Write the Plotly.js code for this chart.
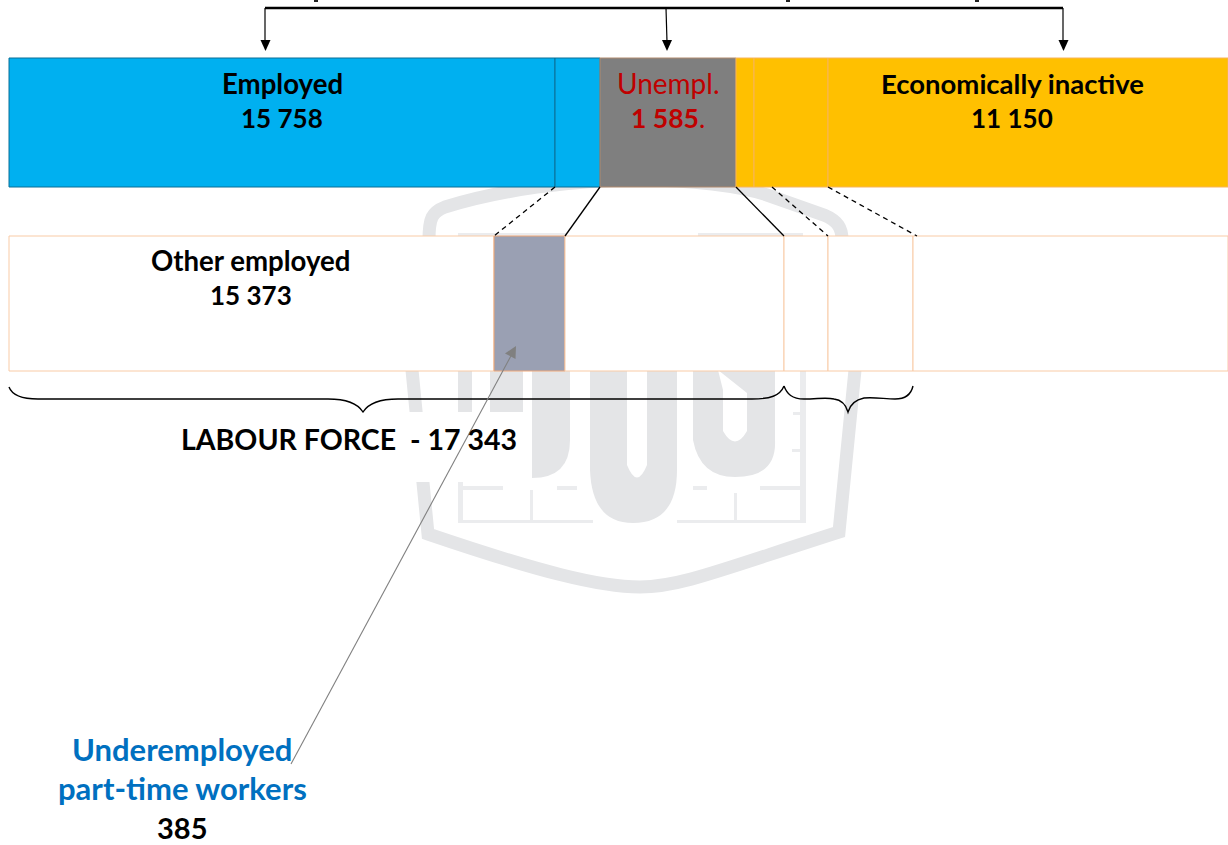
<!DOCTYPE html>
<html>
<head>
<meta charset="utf-8">
<script src="https://cdn.plot.ly/plotly-3.0.1.min.js"></script>
<style>html,body{margin:0;padding:0;background:#fff;overflow:hidden}#chart{width:1228px;height:845px}</style>
</head>
<body>
<div id="chart"></div>
<script>
// Schematic segment widths (the diagram is not to scale)
const topSegments = ['Employed', 'Employed (part)', 'Unempl.', 'Inactive (a)', 'Inactive (b)', 'Economically inactive'];
const topWidths   = [546, 45, 136, 18, 74, 400];
const topColors   = ['#00b0f0', '#00b0f0', '#7f7f7f', '#ffc000', '#ffc000', '#ffc000'];
const topBorders  = ['#0b6f96', '#0b6f96', '#b08a6e', '#f7b45a', '#f7b45a', '#f7b45a'];

const lowSegments = ['Other employed', 'Underemployed part-time workers', 'Unemployed', 'Potential (a)', 'Potential (b)', 'Other inactive'];
const lowWidths   = [485, 71, 219, 44, 85, 315];
const lowColors   = ['#ffffff', '#9aa0b3', '#ffffff', '#ffffff', '#ffffff', '#ffffff'];
const lowBorders  = ['#f9cba6', '#f0a878', '#f9cba6', '#f9cba6', '#f9cba6', '#f9cba6'];

const startX = 9;
function cumulative(widths) {
  let s = startX;
  return widths.map(w => { const b = s; s += w; return b; });
}
function barTrace(names, widths, colors, borders, yc, h) {
  return {
    type: 'bar', orientation: 'h',
    x: widths, y: widths.map(() => yc), base: cumulative(widths),
    width: widths.map(() => h), text: names, textposition: 'none', hoverinfo: 'text',
    marker: { color: colors, line: { color: borders, width: 1 } },
    showlegend: false
  };
}

const WM = '#e4e5e7', WL = '#ebecee';
function fill(path, c) { return { type: 'path', path, fillcolor: c || WM, line: { width: 0 }, layer: 'below' }; }
function rect(x0, y0, x1, y1, c) { return { type: 'rect', x0, y0, x1, y1, fillcolor: c || WL, line: { width: 0 }, layer: 'below' }; }
function conn(x0, y0, x1, y1, dash) {
  return { type: 'line', x0, y0, x1, y1, line: { color: '#000', width: 1.3, dash: dash ? '5px,4px' : 'solid' } };
}
function stroke(path, w, c) { return { type: 'path', path, line: { color: c || '#000', width: w } }; }
function head(x, yTip, c, hw, len) {
  return { type: 'path', path: `M${x - hw},${yTip - len} L${x + hw},${yTip - len} L${x},${yTip} Z`, fillcolor: c, line: { width: 0 } };
}

const shapes = [
  // watermark badge
  { type: 'path', layer: 'below', fillcolor: 'rgba(0,0,0,0)', line: { color: WM, width: 13 },
    path: 'M429,240 C429,218 432,212 445,207 C500,190 570,180 640,180 C690,180 740,186 767,195 L824,215 C838,221 842,228 842,240 L855,370 L839,532 C720,570 680,587 640,587 C600,587 540,572 428,534 L412,370 Z' },
  fill('M532,360 L570,360 L570,440 Q570,478 532,478 Z'),
  fill('M590,360 L590,470 Q592,523 633,523 Q677,523 677,470 L677,360 L647,360 L647,465 Q637,490 627,465 L627,360 Z'),
  fill('M693,360 L693,440 Q700,477 735,477 Q777,477 775,440 L775,360 Z M718,370 L747,393 L747,431 Q735,452 723,431 L723,390 Z'),
  rect(458, 371, 472, 412, WM), rect(490, 371, 523, 412, WM),
  rect(458, 233, 567, 237), rect(698, 233, 803, 237),
  rect(458, 520, 593, 523), rect(677, 520, 806, 523),
  rect(458, 482, 463, 522), rect(530, 490, 533, 522),
  rect(463, 486, 503, 490), rect(557, 486, 577, 490),
  rect(693, 486, 707, 490), rect(760, 486, 803, 490),
  rect(800, 371, 806, 522), rect(734, 493, 737, 520),
  rect(793, 412, 803, 415), rect(792, 449, 803, 452),
  // white box behind the labour force label
  rect(170, 412, 531, 482, '#ffffff'),

  // clipped text descenders at the page top
  rect(314, 0, 318, 2, '#222'), rect(786, 0, 790, 2, '#222'), rect(975, 0, 979, 2, '#222'),

  // top connector with arrows
  stroke('M265,8 L1063,8', 2.4),
  stroke('M265,8 L265,42', 1.2), stroke('M666,8 L667,42', 1.2), stroke('M1063,8 L1063,42', 1.2),
  head(265.5, 51, '#000', 5, 11), head(667, 51, '#000', 5, 11), head(1063.5, 51, '#000', 5, 11),

  // zoom lines between rows
  conn(555, 187, 494, 236, true), conn(600, 187, 565, 236, false),
  conn(736, 187, 784, 236, false), conn(772, 187, 828, 236, true), conn(828, 187, 917, 236, true),

  // braces
  stroke('M9,387 C12,395 22,399 38,399 L328,399 C348,399 358,404 363,412 C368,404 378,399 398,399 L752,399 C770,399 780,396 784,386', 1.4),
  stroke('M784,386 C787,394 792,399 804,399 C818,399 826,397 834,399 C842,400 846,405 848,412 C850,405 854,400 864,398 C875,397 885,399 895,399 C905,399 911,395 913,386', 1.4),

  // leader arrow
  conn(291, 764, 512, 354, false),
  { type: 'path', path: 'M516,346 L515.5,359 L505,353.5 Z', fillcolor: '#808080', line: { width: 0 } }
];
shapes[shapes.length - 2].line = { color: '#808080', width: 1.1 };

function label(text, x, y, size, color) {
  return { text, x, y, xref: 'x', yref: 'y', xanchor: 'center', yanchor: 'middle', showarrow: false,
           font: { family: 'Lato, Carlito, sans-serif', size, color } };
}
const annotations = [
  label('<b>Employed</b>', 282, 83, 27.6, '#000'),
  label('<b>15 758</b>', 282, 118, 26, '#000'),
  label('Unempl.', 668, 83, 28, '#c00000'),
  label('<b>1 585</b>.', 668, 118, 26.5, '#c00000'),
  label('<b>Economically inactive</b>', 1012, 83, 27.5, '#000'),
  label('<b>11 150</b>', 1012, 118, 26, '#000'),
  label('<b>Other employed</b>', 251, 260, 27.6, '#000'),
  label('<b>15 373</b>', 251, 295, 26, '#000'),
  label('<b>LABOUR FORCE\u00a0 - 17 343</b>', 349, 439, 28.5, '#000'),
  label('<b>Underemployed</b>', 182, 749, 31, '#0070c0'),
  label('<b>part-time workers</b>', 182, 788, 31, '#0070c0'),
  label('<b>385</b>', 182, 827, 29, '#000')
];

const axisBase = { visible: false, showgrid: false, zeroline: false, fixedrange: true };
Plotly.newPlot('chart', [
  barTrace(topSegments, topWidths, topColors, topBorders, 122.5, 129),
  barTrace(lowSegments, lowWidths, lowColors, lowBorders, 303.5, 135)
], {
  width: 1228, height: 845,
  margin: { l: 0, r: 0, t: 0, b: 0 },
  paper_bgcolor: '#fff', plot_bgcolor: 'rgba(0,0,0,0)',
  barmode: 'overlay',
  xaxis: Object.assign({ range: [0, 1228] }, axisBase),
  yaxis: Object.assign({ range: [845, 0] }, axisBase),
  shapes, annotations
}, { displayModeBar: false, staticPlot: true });
</script>
</body>
</html>
